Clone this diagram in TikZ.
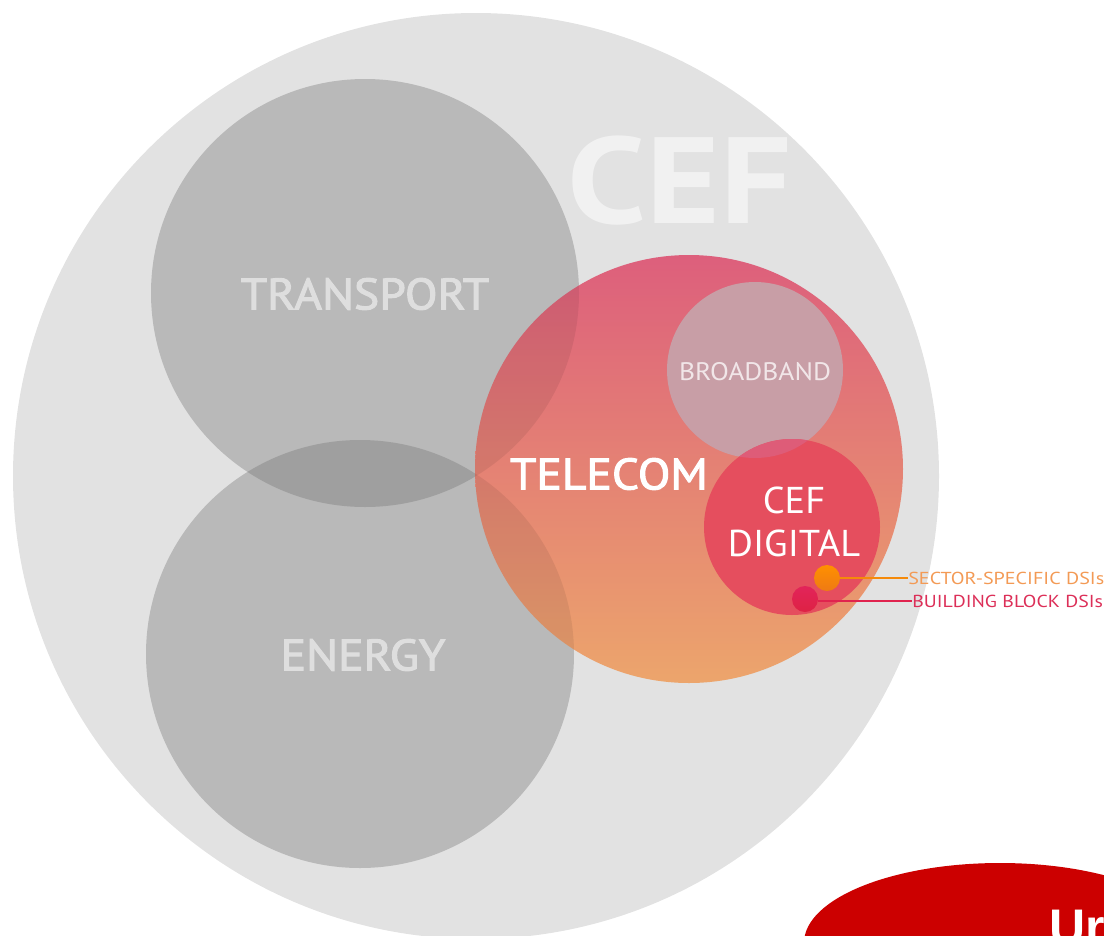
\documentclass[tikz,border=0pt]{standalone}
\usepackage{fontspec}
\setmainfont{PT Sans}
\newfontfamily\medf[FakeBold=2.2]{PT Sans}
\newfontfamily\arialb{Liberation Sans}[BoldFont={Liberation Sans Bold}]
\definecolor{bigc}{HTML}{E2E2E2}
\definecolor{secc}{HTML}{B9B9B9}
\definecolor{lensc}{HTML}{9F9F9F}
\definecolor{sect}{HTML}{DEDEDE}
\definecolor{topc}{HTML}{DD5F7C}
\definecolor{botc}{HTML}{ECA56C}
\definecolor{digc}{HTML}{E54E5E}
\definecolor{bbc}{HTML}{C89EA6}
\definecolor{bbdig}{HTML}{DE5C78}
\definecolor{oraT}{HTML}{FF9000}
\definecolor{oraB}{HTML}{EE7A14}
\definecolor{redT}{HTML}{E2245A}
\definecolor{redB}{HTML}{DE2244}
\definecolor{oral}{HTML}{F58A0A}
\definecolor{redl}{HTML}{E0234E}
\definecolor{orat}{HTML}{F39A55}
\definecolor{redt}{HTML}{DC2F58}
\definecolor{capc}{HTML}{CC0000}
\tikzset{
 x=0.75pt,y=-0.75pt,
 circ/.style={circle,inner sep=0pt,minimum size=#1*1.5pt},
 sector/.style={circ=214,fill=secc},
 lbl/.style={inner sep=0pt,font=\medf\fontsize{#1}{#1}\selectfont},
 thin lbl/.style={inner sep=0pt,font=\fontsize{#1}{#1}\selectfont},
 lead/.style={line width=1.3pt}
}
\begin{document}
\begin{tikzpicture}
\useasboundingbox (0,0) rectangle (1104,936);
\clip (0,0) rectangle (1104,936);
\node[circ=463,fill=bigc] (cef) at (476,476) {};
\node[inner sep=0pt,font=\bfseries\fontsize{92}{92}\selectfont,text=white,text opacity=0.55,xscale=1.15] (ceft) at (680,181) {CEF};
\node[sector] (transport) at (365,293) {};
\node[sector] (energy) at (360,654) {};
\begin{scope}
\clip (365,293) circle (214);
\fill[lensc] (360,654) circle (214);
\end{scope}
\node[circ=214,top color=topc,bottom color=botc] (telecom) at (689,469) {};
\begin{scope}
\clip (689,469) circle (214);
\fill[black,fill opacity=0.07] (365,293) circle (214);
\fill[black,fill opacity=0.07] (360,654) circle (214);
\end{scope}
\node[circ=88,fill=bbc] (broadband) at (755,370) {};
\node[circ=88,fill=digc] (digital) at (792,527) {};
\begin{scope}
\clip (755,370) circle (88);
\fill[bbdig] (792,527) circle (88);
\end{scope}
\node[thin lbl=19,text=white,text opacity=0.75,xscale=1.085] (tb) at (755,372) {BROADBAND};
\node[lbl=33,text=sect,xscale=1.08] (tt) at (365,294) {TRANSPORT};
\node[lbl=33,text=sect,xscale=1.08] (te) at (363,655) {ENERGY};
\node[lbl=33,text=white,xscale=1.08] (tl) at (609,474) {TELECOM};
\node[thin lbl=28,text=white,align=center,xscale=1.03] (td) at (794,522) {CEF\\[4pt]DIGITAL};
\node[circ=13,top color=oraT,bottom color=oraB] (dot1) at (827,578) {};
\node[circ=13,top color=redT,bottom color=redB] (dot2) at (805,599) {};
\node[thin lbl=13,text=orat,anchor=west,xscale=1.16] (s1) at (908,578) {SECTOR-SPECIFIC DSIs};
\node[thin lbl=13,text=redt,anchor=west,xscale=1.145] (s2) at (912,601) {BUILDING BLOCK DSIs};
\draw[lead,oral] (dot1) -- (s1);
\draw[lead,redl] (dot2.east|-s2) -- (s2);
\fill[capc] (1000,943) ellipse (196 and 80);
\node[inner sep=0pt,anchor=base west,text=white,font=\arialb\bfseries\fontsize{37.5}{37.5}\selectfont] (ur) at (1049,944) {Ur};
\end{tikzpicture}
\end{document}
